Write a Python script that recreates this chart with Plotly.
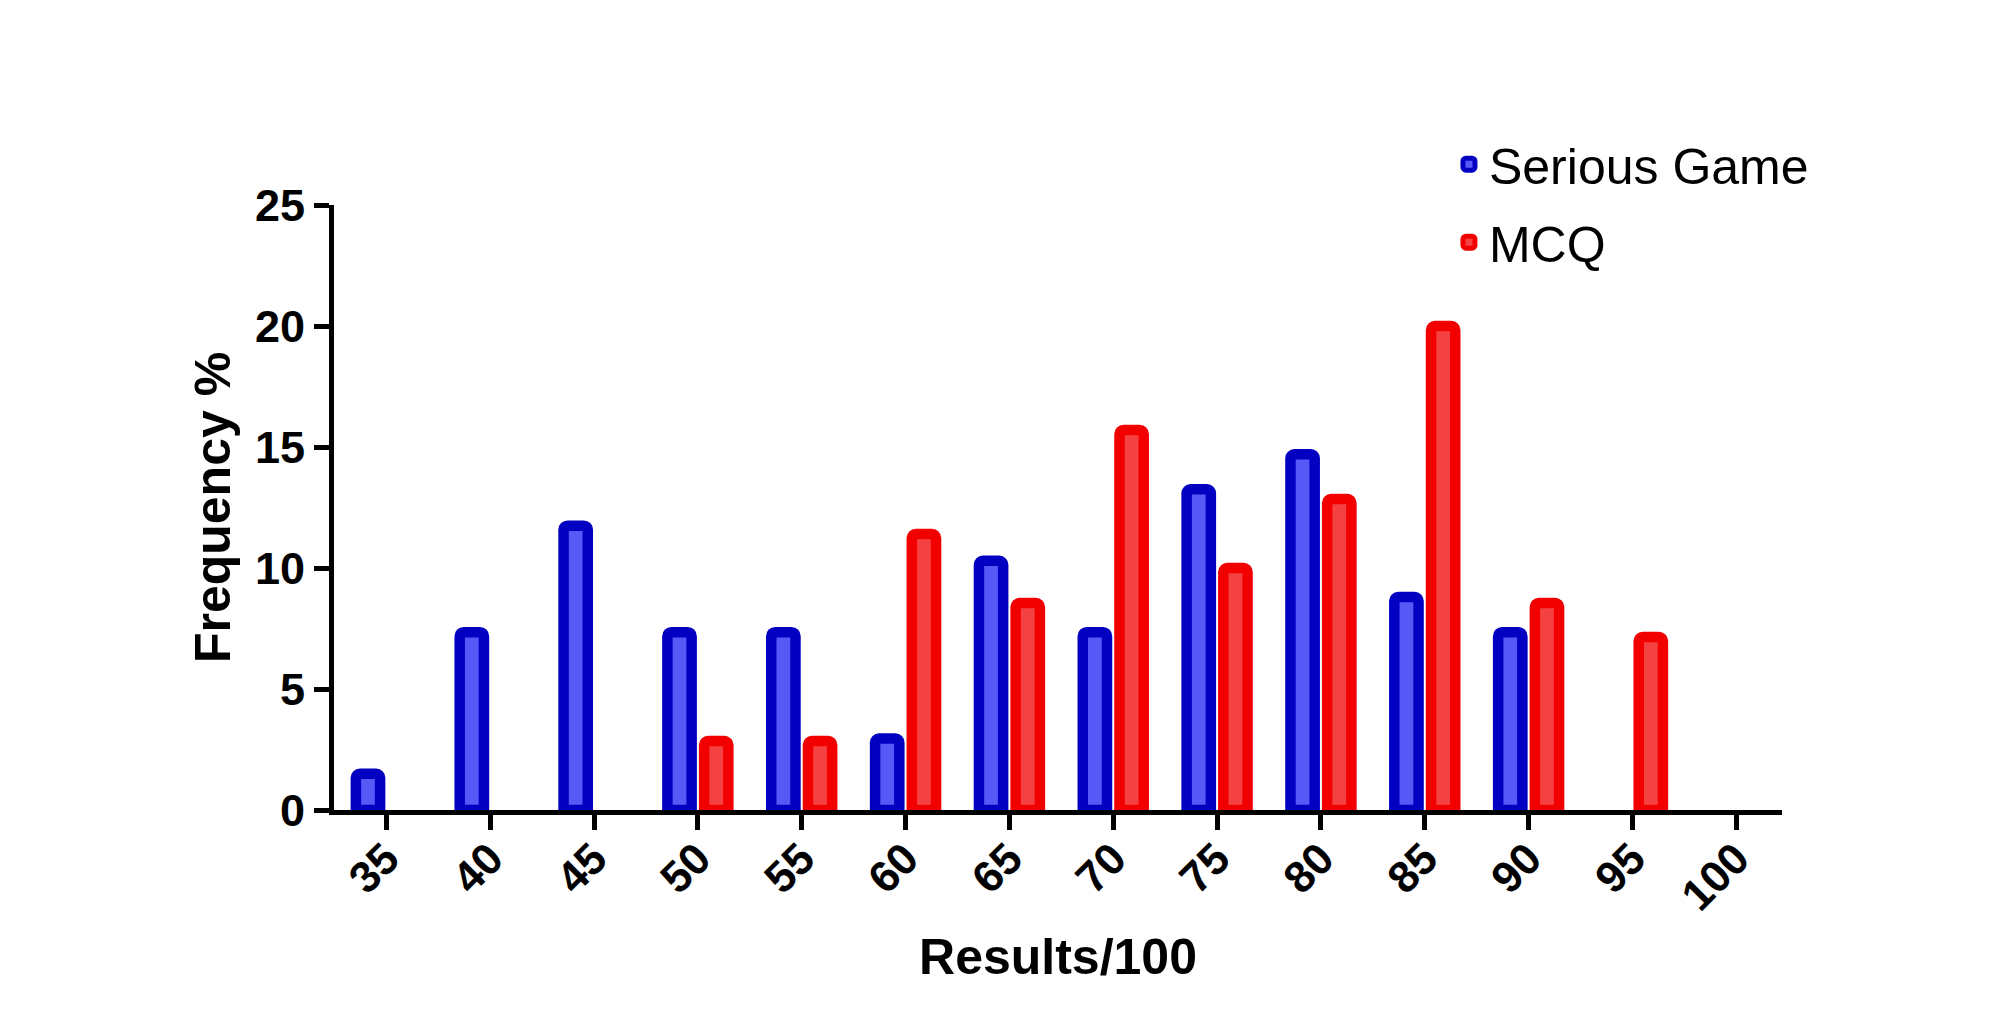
import plotly.graph_objects as go

# Data
results = [35, 40, 45, 50, 55, 60, 65, 70, 75, 80, 85, 90, 95, 100]
tick_labels = ["35", "40", "45", "50", "55", "60", "65", "70", "75", "80", "85", "90", "95", "100"]
serious_game = [1.5, 7.35, 11.75, 7.35, 7.35, 2.95, 10.3, 7.35, 13.25, 14.7, 8.8, 7.35, 0, 0]
mcq = [0, 0, 0, 2.85, 2.85, 11.4, 8.55, 15.7, 10.0, 12.85, 20.0, 8.55, 7.15, 0]
y_ticks = [0, 5, 10, 15, 20, 25]

FONT = "Liberation Sans, Arial, Helvetica, sans-serif"
LW = 10.5


def drawn(vals):
    # zero-frequency bins are drawn as no bar (as in the original)
    return [v if v > 0 else None for v in vals]


fig = go.Figure()
fig.add_trace(go.Bar(
    x=results, y=drawn(serious_game), name="Serious Game", legendgroup="sg",
    marker=dict(color="#5858F6", line=dict(color="#0400C2", width=LW)),
))
fig.add_trace(go.Bar(
    x=results, y=drawn(mcq), name="MCQ", legendgroup="mcq",
    marker=dict(color="#F44242", line=dict(color="#F20000", width=LW)),
))

fig.update_layout(
    width=2000, height=1036,
    barmode="group", bargap=0.293, bargroupgap=0.34, barcornerradius=4,
    plot_bgcolor="white", paper_bgcolor="white",
    margin=dict(l=326, r=226, t=197, b=234),
    font=dict(family=FONT, color="black"),
    legend=dict(
        x=0.770, y=1.132, xanchor="left", yanchor="top",
        font=dict(family=FONT, size=50, color="black"),
        bgcolor="rgba(0,0,0,0)", tracegroupgap=10,
    ),
    xaxis=dict(
        range=[32.48, 102.2], tickmode="array", tickvals=results, ticktext=tick_labels,
        tickangle=-45, ticks="outside", ticklen=15, tickwidth=5, tickcolor="black",
        ticklabelstandoff=-15,
        showline=True, linecolor="black", linewidth=5, showgrid=False, zeroline=False,
        tickfont=dict(family=FONT, size=44, weight="bold", color="black"),
        title=dict(text="Results/100", standoff=22,
                   font=dict(family=FONT, size=50, weight="bold", color="black")),
    ),
    yaxis=dict(
        range=[0, 25], tickmode="array", tickvals=y_ticks,
        ticks="outside", ticklen=15, tickwidth=5, tickcolor="black",
        showline=True, linecolor="black", linewidth=5, showgrid=False, zeroline=False,
        tickfont=dict(family=FONT, size=45, weight="bold", color="black"),
        title=dict(text="Frequency %", standoff=10,
                   font=dict(family=FONT, size=50, weight="bold", color="black")),
    ),
)

fig.write_html("out.html")
